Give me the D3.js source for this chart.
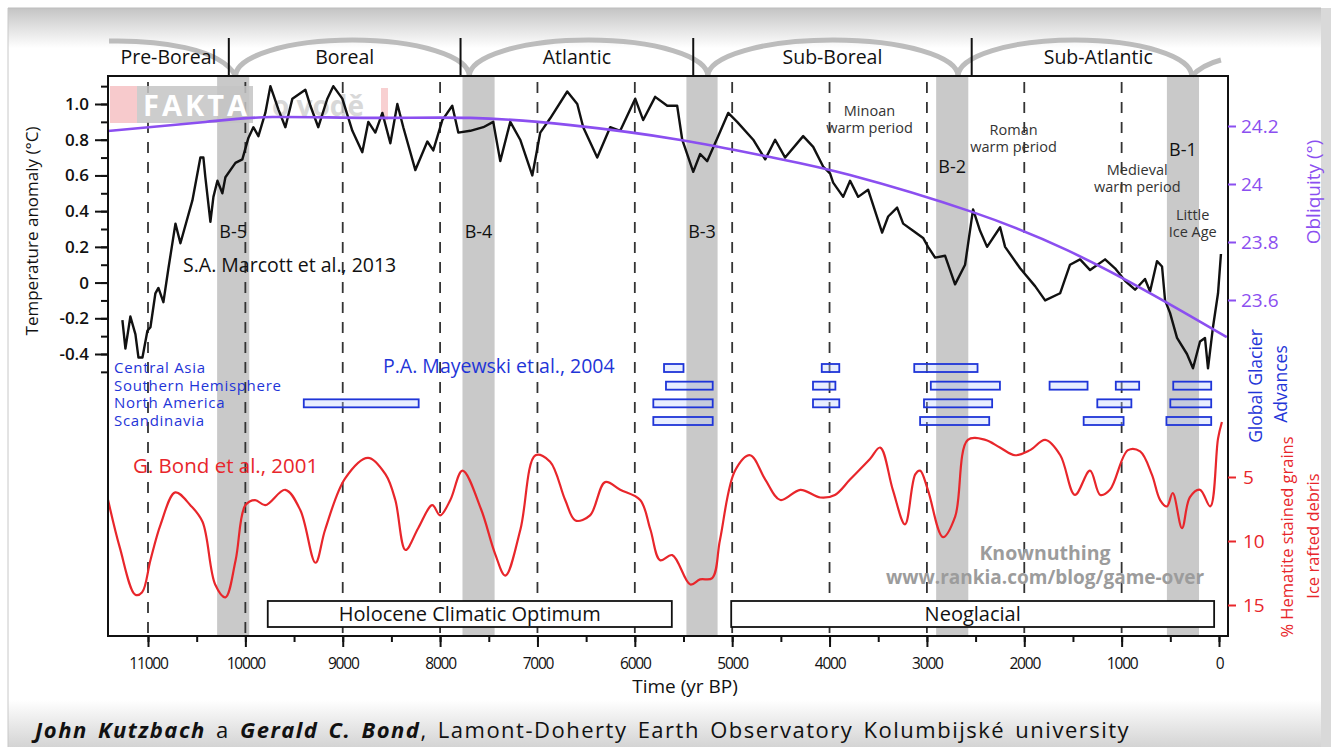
<!DOCTYPE html>
<html>
<head>
<meta charset="utf-8">
<title>Holocene climate record</title>
<script src="https://d3js.org/d3.v7.min.js"></script>
<style>
  body { margin: 0; background: #fff; }
  svg text { font-family: "Open Sans", "Noto Sans", sans-serif; }
</style>
</head>
<body>
<div id="chart"></div>
<script>
// ---- data ----
const yearTicks = [11000, 10000, 9000, 8000, 7000, 6000, 5000, 4000, 3000, 2000, 1000, 0];
const tempTicks = [1.0, 0.8, 0.6, 0.4, 0.2, 0, -0.2, -0.4];
const tempTickLabels = ["1.0", "0.8", "0.6", "0.4", "0.2", "0", "-0.2", "-0.4"];
const obliquityTicks = [24.2, 24, 23.8, 23.6];
const debrisTicks = [5, 10, 15];

const periods = ["Pre-Boreal", "Boreal", "Atlantic", "Sub-Boreal", "Sub-Atlantic"];
const periodEdges = [11410, 10170, 7790, 5400, 2540, -60];
const archCusps = [10100, 7700, 5250, 2680, 280];

const bondEvents = ["B-5", "B-4", "B-3", "B-2", "B-1"];
const bondFrom = [10290, 7770, 5470, 2905, 535];
const bondTo = [9960, 7440, 5150, 2575, 205];

// Marcott et al. 2013 temperature anomaly [yr BP, °C]
const marcott = [
  [11263,-0.21],[11232,-0.37],[11181,-0.19],[11129,-0.29],[11098,-0.42],[11057,-0.42],
  [11006,-0.27],[10975,-0.25],[10924,-0.06],[10893,-0.03],[10842,-0.11],[10790,0.08],
  [10718,0.33],[10667,0.22],[10544,0.46],[10462,0.70],[10431,0.70],[10411,0.59],
  [10359,0.34],[10328,0.48],[10287,0.57],[10236,0.50],[10205,0.59],[10102,0.67],
  [10031,0.69],[9969,0.81],[9918,0.87],[9866,0.82],[9795,0.95],[9743,1.10],
  [9661,0.97],[9589,0.87],[9517,1.03],[9384,1.08],[9332,0.99],[9251,0.87],
  [9158,1.03],[9097,1.10],[9004,1.03],[8901,0.85],[8799,0.73],[8737,0.90],
  [8665,0.84],[8593,0.95],[8511,0.78],[8439,1.00],[8378,0.87],[8254,0.63],
  [8131,0.79],[8070,0.74],[7977,0.91],[7875,0.99],[7813,0.84],[7690,0.85],
  [7556,0.87],[7454,0.90],[7382,0.68],[7279,0.90],[7177,0.80],[7053,0.60],
  [6971,0.84],[6869,0.92],[6694,1.07],[6591,1.00],[6530,0.87],[6386,0.70],
  [6253,0.87],[6150,0.85],[5996,1.03],[5914,0.91],[5791,1.04],[5667,0.99],
  [5565,0.99],[5513,0.80],[5400,0.62],[5329,0.72],[5257,0.68],[5144,0.82],
  [5041,0.95],[4949,0.90],[4784,0.80],[4661,0.69],[4559,0.80],[4456,0.70],
  [4271,0.82],[4168,0.76],[4066,0.65],[3994,0.61],[3963,0.56],[3860,0.48],
  [3789,0.57],[3706,0.48],[3604,0.52],[3460,0.28],[3398,0.37],[3306,0.42],
  [3244,0.33],[3142,0.29],[3039,0.25],[2988,0.20],[2916,0.14],[2813,0.15],
  [2711,-0.01],[2608,0.10],[2526,0.41],[2454,0.29],[2382,0.20],[2248,0.31],
  [2197,0.20],[2043,0.08],[1889,-0.02],[1786,-0.10],[1632,-0.06],[1530,0.10],
  [1427,0.13],[1324,0.07],[1170,0.13],[1068,0.08],[965,0.01],[862,-0.04],
  [760,0.02],[708,-0.05],[637,0.12],[585,0.09],[554,-0.10],[503,-0.17],
  [431,-0.31],[329,-0.40],[267,-0.48],[195,-0.33],[144,-0.31],[113,-0.48],
  [62,-0.25],[10,-0.06],[-20,0.16]
];

// orbital obliquity [yr BP, degrees]
const obliquity = [
  [11410,24.183],[10410,24.214],[9720,24.231],[8700,24.228],[7690,24.228],
  [6660,24.203],[5530,24.152],[4610,24.093],[3790,24.031],[2530,23.903],
  [1560,23.772],[710,23.624],[-80,23.472]
];

// Bond et al. 2001 % hematite stained grains [yr BP, %]
const bond = [
  [11410,6.8],[11290,10.5],[11130,14.2],[11060,14.0],[10975,11.5],[10870,8.7],
  [10720,6.2],[10565,7.2],[10440,8.5],[10310,13.4],[10205,14.4],[10100,11.5],
  [10000,7.2],[9900,6.8],[9795,7.2],[9590,6.0],[9435,7.6],[9280,11.7],
  [9180,9.1],[8975,5.1],[8740,3.5],[8560,4.8],[8460,6.8],[8355,10.7],
  [8225,9.0],[8080,7.2],[8000,8.0],[7895,6.8],[7770,4.5],[7580,7.5],
  [7435,11.0],[7330,12.7],[7175,9.1],[7020,3.3],[6870,3.8],[6715,6.8],
  [6610,8.4],[6460,8.0],[6305,5.4],[6150,6.0],[5945,6.8],[5840,9.1],
  [5740,11.5],[5615,11.1],[5430,13.4],[5330,13.0],[5205,12.9],[5125,9.9],
  [4970,4.5],[4815,3.3],[4660,5.2],[4505,6.8],[4300,6.0],[4095,6.6],
  [3945,6.4],[3790,5.2],[3585,3.6],[3480,2.7],[3350,6.0],[3225,8.7],
  [3120,4.8],[3070,4.5],[2990,6.0],[2835,9.7],[2710,8.1],[2580,2.1],
  [2400,2.1],[2250,2.7],[2095,3.3],[1940,2.9],[1785,2.1],[1630,3.3],
  [1480,6.4],[1325,4.5],[1220,6.4],[1120,6.0],[935,2.9],[810,3.0],
  [690,4.8],[605,6.8],[535,7.3],[475,6.25],[380,9.0],[300,6.6],
  [195,6.0],[90,7.3],[10,2.0],[-30,0.7]
];

// Mayewski et al. 2004 glacier advances [region, from, to]
const regions = ["Central Asia", "Southern Hemisphere", "North America", "Scandinavia"];
const glacierAdvances = [
  ["Central Asia",5700,5500],["Central Asia",4080,3900],["Central Asia",3130,2480],
  ["Southern Hemisphere",5680,5200],["Southern Hemisphere",4170,3940],["Southern Hemisphere",2960,2250],
  ["Southern Hemisphere",1740,1350],["Southern Hemisphere",1060,820],["Southern Hemisphere",470,80],
  ["North America",9400,8220],["North America",5810,5200],["North America",4170,3900],
  ["North America",3030,2330],["North America",1250,900],["North America",500,80],
  ["Scandinavia",5810,5200],["Scandinavia",3070,2360],["Scandinavia",1390,980],["Scandinavia",540,80]
];

const stages = ["Holocene Climatic Optimum", "Neoglacial"];
const stageFrom = [9770, 5010];
const stageTo = [5620, 50];

// ---- layout ----
const W = 1331, H = 747;
const plotL = 108, plotR = 1228, plotT = 76, plotB = 636;
const black = "#111", purple = "#8b4ff0", red = "#e8262b", blue = "#1f35d8";

const svg = d3.select("#chart").append("svg")
  .attr("width", W).attr("height", H);

const defs = svg.append("defs");
const gTop = defs.append("linearGradient").attr("id", "gTop").attr("x1", 0).attr("y1", 0).attr("x2", 0).attr("y2", 1);
gTop.append("stop").attr("offset", "0%").attr("stop-color", "#c4c4c4");
gTop.append("stop").attr("offset", "100%").attr("stop-color", "#fff");
const gBot = defs.append("linearGradient").attr("id", "gBot").attr("x1", 0).attr("y1", 0).attr("x2", 0).attr("y2", 1);
gBot.append("stop").attr("offset", "0%").attr("stop-color", "#fff");
gBot.append("stop").attr("offset", "100%").attr("stop-color", "#d4d4d4");

// screenshot frame
svg.append("rect").attr("x", 8).attr("y", 8).attr("width", W - 18).attr("height", 40).attr("fill", "url(#gTop)");
svg.append("rect").attr("x", 8).attr("y", 700).attr("width", W - 18).attr("height", 47).attr("fill", "url(#gBot)");
svg.append("line").attr("x1", 8).attr("x2", 8).attr("y1", 8).attr("y2", H).attr("stroke", "#c8c8c8");
svg.append("line").attr("x1", 8).attr("x2", W - 10).attr("y1", 8).attr("y2", 8).attr("stroke", "#bdbdbd");
svg.append("rect").attr("x", W - 10).attr("y", 8).attr("width", 10).attr("height", H).attr("fill", "#d9d9d9");

// scales
const x = d3.scaleLinear().domain([11000, 0]).range([148, 1219]);
const yT = d3.scaleLinear().domain([-0.4, 1.0]).range([354, 104]);
const yO = d3.scaleLinear().domain([23.6, 24.2]).range([300, 126]);
const yB = d3.scaleLinear().domain([5, 15]).range([477, 605]);
const yG = d3.scalePoint().domain(regions).range([368, 421]);

// Bond event bands
svg.append("g").selectAll("rect").data(bondEvents).join("rect")
  .attr("x", (d, i) => x(bondFrom[i]))
  .attr("width", (d, i) => x(bondTo[i]) - x(bondFrom[i]))
  .attr("y", plotT).attr("height", plotB - plotT)
  .attr("fill", "#c9c9c9");

// period header arches
const arch = svg.append("g").attr("fill", "none").attr("stroke", "#bcbcbc").attr("stroke-width", 5);
arch.append("path").attr("d", `M${x(11400)},41 C${x(10900)},40 ${x(10250)},48 ${x(archCusps[0])},76`);
for (let i = 0; i < archCusps.length - 1; i++) {
  const a = x(archCusps[i]), b = x(archCusps[i + 1]);
  arch.append("path").attr("d", `M${a},76 A${(b - a) / 2},36 0 0 1 ${b},76`);
}
arch.append("path").attr("d", `M${x(archCusps[4])},76 C${x(200)},68 ${x(100)},63 ${x(-20)},60`);

// period dividers and names
svg.append("g").selectAll("line").data(periodEdges.slice(1, 5)).join("line")
  .attr("x1", d => x(d)).attr("x2", d => x(d))
  .attr("y1", 38).attr("y2", plotT)
  .attr("stroke", black).attr("stroke-width", 2);
svg.append("g").selectAll("text").data(periods).join("text")
  .attr("x", (d, i) => x((periodEdges[i] + periodEdges[i + 1]) / 2))
  .attr("y", 64).attr("text-anchor", "middle")
  .attr("font-size", 19.5).attr("fill", black)
  .text(d => d);

// dashed millennium lines
svg.append("g").selectAll("line").data(yearTicks.slice(0, 11)).join("line")
  .attr("x1", d => x(d)).attr("x2", d => x(d))
  .attr("y1", plotT + 6).attr("y2", plotB)
  .attr("stroke", "#333").attr("stroke-width", 1.8)
  .attr("stroke-dasharray", "11,9");

// watermark
const wm = svg.append("g");
wm.append("rect").attr("x", 110).attr("y", 86).attr("width", 27).attr("height", 37).attr("fill", "#f6c4c6").attr("opacity", 0.9);
wm.append("rect").attr("x", 137).attr("y", 86).attr("width", 116).attr("height", 37).attr("fill", "#c4c4c4").attr("opacity", 0.85);
wm.append("text").attr("x", 143).attr("y", 116).attr("font-size", 29).attr("font-weight", 700)
  .attr("fill", "#fff").attr("letter-spacing", 3).text("FAKTA");
wm.append("text").attr("x", 272).attr("y", 116).attr("font-size", 28).attr("font-weight", 700)
  .attr("fill", "#cfcfcf").attr("opacity", 0.8).text("o vodě");
wm.append("rect").attr("x", 381).attr("y", 88).attr("width", 7).attr("height", 32).attr("fill", "#f6c4c6").attr("opacity", 0.8);

// glacier advance boxes
svg.append("g").selectAll("rect").data(glacierAdvances).join("rect")
  .attr("x", d => x(d[1])).attr("width", d => x(d[2]) - x(d[1]))
  .attr("y", d => yG(d[0]) - 4).attr("height", 8)
  .attr("fill", "rgba(190,205,255,0.35)").attr("stroke", blue).attr("stroke-width", 1.8);
svg.append("g").selectAll("text").data(regions).join("text")
  .attr("x", 114).attr("y", d => yG(d) + 5)
  .attr("font-size", 15).attr("fill", blue).attr("letter-spacing", 0.7).text(d => d);

// curves
const lineT = d3.line().x(d => x(d[0])).y(d => yT(d[1]));
const lineO = d3.line().x(d => x(d[0])).y(d => yO(d[1])).curve(d3.curveNatural);
const lineB = d3.line().x(d => x(d[0])).y(d => yB(d[1])).curve(d3.curveCatmullRom.alpha(0.5));

svg.append("path").datum(bond).attr("d", lineB)
  .attr("fill", "none").attr("stroke", red).attr("stroke-width", 2.2);
svg.append("path").datum(marcott).attr("d", lineT)
  .attr("fill", "none").attr("stroke", black).attr("stroke-width", 2.4).attr("stroke-linejoin", "round");
svg.append("path").datum(obliquity).attr("d", lineO)
  .attr("fill", "none").attr("stroke", purple).attr("stroke-width", 2.6);

// stage boxes
const st = svg.append("g");
st.selectAll("rect").data(stages).join("rect")
  .attr("x", (d, i) => x(stageFrom[i])).attr("width", (d, i) => x(stageTo[i]) - x(stageFrom[i]))
  .attr("y", 601).attr("height", 26)
  .attr("fill", "#fff").attr("stroke", black).attr("stroke-width", 1.8);
st.selectAll("text").data(stages).join("text")
  .attr("x", (d, i) => (x(stageFrom[i]) + x(stageTo[i])) / 2)
  .attr("y", 621).attr("text-anchor", "middle")
  .attr("font-size", 20).attr("fill", black).text(d => d);

// plot frame
svg.append("rect").attr("x", plotL).attr("y", plotT).attr("width", plotR - plotL).attr("height", plotB - plotT)
  .attr("fill", "none").attr("stroke", black).attr("stroke-width", 2);

// axes
function styleAxis(g, color, size, weight) {
  g.select(".domain").remove();
  g.selectAll("line").attr("stroke", color).attr("stroke-width", 2);
  g.selectAll("text").attr("fill", color).attr("font-size", size)
    .attr("font-weight", weight || 400)
    .style("font-family", "'Open Sans', 'Noto Sans', sans-serif");
}

const minorYears = d3.range(11000, -1, -500);
svg.append("g").attr("transform", `translate(0,${plotB})`)
  .call(d3.axisBottom(x).tickValues(minorYears).tickSize(6).tickFormat(""))
  .call(g => styleAxis(g, black, 0));
svg.append("g").attr("transform", `translate(0,${plotB})`)
  .call(d3.axisBottom(x).tickValues(yearTicks).tickSize(11).tickPadding(11).tickFormat(d3.format("d")))
  .call(g => styleAxis(g, black, 15.5))
  .call(g => g.selectAll("text").attr("letter-spacing", -1.2));

const minorTemp = d3.range(-5, 12).map(d => d / 10);
svg.append("g").attr("transform", `translate(${plotL},0)`)
  .call(d3.axisLeft(yT).tickValues(minorTemp).tickSize(7).tickFormat(""))
  .call(g => styleAxis(g, black, 0));
svg.append("g").attr("transform", `translate(${plotL},0)`)
  .call(d3.axisLeft(yT).tickValues(tempTicks).tickSize(13).tickPadding(6)
    .tickFormat((d, i) => tempTickLabels[i]))
  .call(g => styleAxis(g, black, 17, 600));

svg.append("g").attr("transform", `translate(${plotR},0)`)
  .call(d3.axisRight(yO).tickValues(obliquityTicks).tickSize(8).tickPadding(5).tickFormat(d3.format("")))
  .call(g => styleAxis(g, purple, 19));
svg.append("g").attr("transform", `translate(${plotR},0)`)
  .call(d3.axisRight(yB).tickValues(debrisTicks).tickSize(8).tickPadding(7).tickFormat(d3.format("d")))
  .call(g => styleAxis(g, red, 19));

// axis titles
function vtext(xp, yp, txt, color, size) {
  svg.append("text").attr("transform", `translate(${xp},${yp}) rotate(-90)`)
    .attr("text-anchor", "middle").attr("font-size", size).attr("fill", color).text(txt);
}
vtext(38, 231, "Temperature anomaly (°C)", black, 17);
vtext(1320, 192, "Obliquity (°)", purple, 19);
vtext(1262, 386, "Global Glacier", blue, 17.5);
vtext(1287, 384, "Advances", blue, 17.5);
vtext(1293, 537, "% Hematite stained grains", red, 16.5);
vtext(1319, 536, "Ice rafted debris", red, 16.5);

svg.append("text").attr("x", 685).attr("y", 693).attr("text-anchor", "middle")
  .attr("font-size", 19).attr("fill", black).text("Time (yr BP)");

// annotations
const bondLabelY = [238, 238, 238, 173, 156];
svg.append("g").selectAll("text").data(bondEvents).join("text")
  .attr("x", (d, i) => x((bondFrom[i] + bondTo[i]) / 2))
  .attr("y", (d, i) => bondLabelY[i]).attr("text-anchor", "middle")
  .attr("font-size", 18).attr("fill", black).text(d => d);

svg.append("text").attr("x", 183).attr("y", 272).attr("font-size", 19.5).attr("fill", black)
  .text("S.A. Marcott et al., 2013");
svg.append("text").attr("x", 383).attr("y", 373).attr("font-size", 19.5).attr("fill", blue)
  .text("P.A. Mayewski et al., 2004");
svg.append("text").attr("x", 133).attr("y", 473).attr("font-size", 20.5).attr("fill", red)
  .text("G. Bond et al., 2001");

const notes = [
  ["Minoan", "warm period", 3590, 116],
  ["Roman", "warm period", 2110, 135],
  ["Medieval", "warm period", 840, 175],
  ["Little", "Ice Age", 270, 220]
];
notes.forEach(n => {
  svg.append("text").attr("x", x(n[2])).attr("y", n[3]).attr("text-anchor", "middle")
    .attr("font-size", 14.5).attr("fill", "#333").text(n[0]);
  svg.append("text").attr("x", x(n[2])).attr("y", n[3] + 17).attr("text-anchor", "middle")
    .attr("font-size", 14.5).attr("fill", "#333").text(n[1]);
});

svg.append("text").attr("x", 1045).attr("y", 560).attr("text-anchor", "middle")
  .attr("font-size", 19.5).attr("font-weight", 700).attr("fill", "#9c9c9c").text("Knownuthing");
svg.append("text").attr("x", 1045).attr("y", 584).attr("text-anchor", "middle")
  .attr("font-size", 19).attr("font-weight", 700).attr("fill", "#9c9c9c").text("www.rankia.com/blog/game-over");

// caption
const cap = svg.append("text").attr("x", 35).attr("y", 738).attr("font-size", 22).attr("fill", "#111")
  .attr("letter-spacing", 1.5).attr("word-spacing", 3);
cap.append("tspan").attr("font-weight", 700).attr("font-style", "italic").text("John Kutzbach");
cap.append("tspan").text(" a ");
cap.append("tspan").attr("font-weight", 700).attr("font-style", "italic").text("Gerald  C. Bond");
cap.append("tspan").text(", Lamont-Doherty  Earth Observatory Kolumbijské university");
</script>
</body>
</html>
